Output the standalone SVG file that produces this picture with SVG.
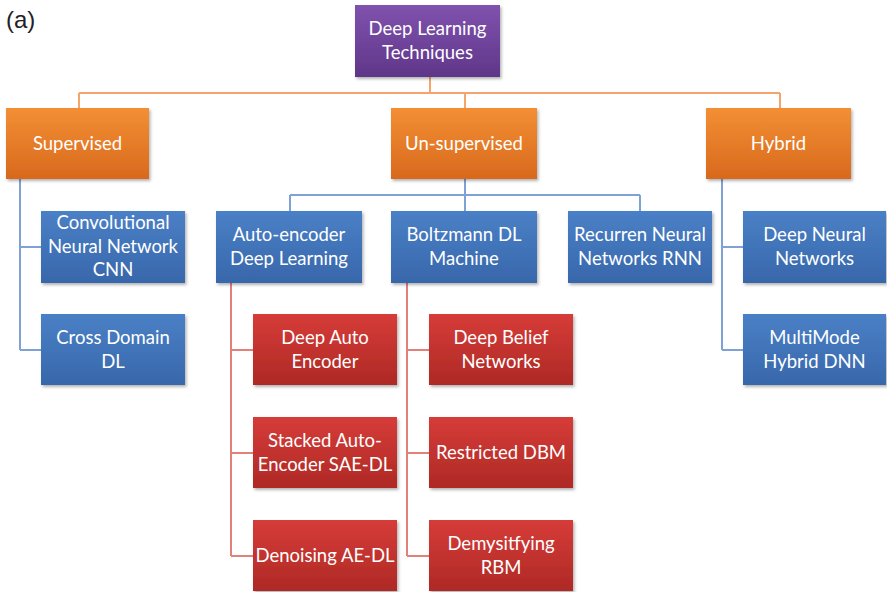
<svg xmlns="http://www.w3.org/2000/svg" width="887" height="592" viewBox="0 0 887 592">
<defs>
<linearGradient id="gP" x1="0" y1="0" x2="0" y2="1"><stop offset="0" stop-color="#8052AE"/><stop offset="1" stop-color="#5F3689"/></linearGradient>
<linearGradient id="gO" x1="0" y1="0" x2="0" y2="1"><stop offset="0" stop-color="#F38F34"/><stop offset="1" stop-color="#D8691D"/></linearGradient>
<linearGradient id="gB" x1="0" y1="0" x2="0" y2="1"><stop offset="0" stop-color="#4A80C6"/><stop offset="1" stop-color="#3867AB"/></linearGradient>
<linearGradient id="gR" x1="0" y1="0" x2="0" y2="1"><stop offset="0" stop-color="#D63C38"/><stop offset="1" stop-color="#AE2925"/></linearGradient>
<filter id="sh" x="-10%" y="-10%" width="125%" height="130%"><feDropShadow dx="1.5" dy="2" stdDeviation="1.5" flood-color="#000" flood-opacity="0.3"/></filter>
</defs>
<style>
.n rect{filter:url(#sh)}
.p{fill:url(#gP)}.o{fill:url(#gO)}.b{fill:url(#gB)}.r{fill:url(#gR)}
text.t{font-family:Lato,"Open Sans",sans-serif;font-size:18.5px;fill:#fff;text-anchor:middle}
.lo{stroke:#F5A56B;stroke-width:2;fill:none}
.lb{stroke:#7EA2D6;stroke-width:2;fill:none}
.lr{stroke:#E2817C;stroke-width:2;fill:none}
</style>
<rect width="887" height="592" fill="#fff"/>
<text x="6" y="28" font-family="Liberation Sans, Arial, sans-serif" font-size="24" fill="#222">(a)</text>
<g id="connectors">
<path class="lo" d="M430 77V93M79 93H780M79 93V108M465 93V108M780 93V108"/>
<path class="lb" d="M20 179V350M20 247H41M20 350H41"/>
<path class="lb" d="M465 179V195M290 195H640M290 195V211M465 195V211M640 195V211"/>
<path class="lb" d="M722 179V350M722 247H743M722 350H743"/>
<path class="lr" d="M231 283V556M231 350H253M231 453H253M231 556H253"/>
<path class="lr" d="M407 283V556M407 350H429M407 453H429M407 556H429"/>
</g>
<g id="root" class="n"><rect class="p" x="355" y="5" width="145" height="72"/><text class="t" x="427.5" y="35">Deep Learning</text><text class="t" x="427.5" y="59">Techniques</text></g>
<g id="supervised" class="n"><rect class="o" x="6" y="108" width="143" height="71"/><text class="t" x="77.5" y="150">Supervised</text></g>
<g id="unsupervised" class="n"><rect class="o" x="391" y="108" width="146" height="71"/><text class="t" x="464" y="150">Un-supervised</text></g>
<g id="hybrid" class="n"><rect class="o" x="706" y="108" width="145" height="71"/><text class="t" x="778.5" y="150">Hybrid</text></g>
<g id="cnn" class="n"><rect class="b" x="41" y="211" width="144" height="72"/><text class="t" x="113" y="229">Convolutional</text><text class="t" x="113" y="253">Neural Network</text><text class="t" x="113" y="276">CNN</text></g>
<g id="crossdomain" class="n"><rect class="b" x="41" y="314" width="144" height="71"/><text class="t" x="113" y="344">Cross Domain</text><text class="t" x="113" y="368">DL</text></g>
<g id="autoencoder" class="n"><rect class="b" x="216" y="211" width="146" height="72"/><text class="t" x="289" y="241">Auto-encoder</text><text class="t" x="289" y="265">Deep Learning</text></g>
<g id="boltzmann" class="n"><rect class="b" x="391" y="211" width="146" height="72"/><text class="t" x="464" y="241">Boltzmann DL</text><text class="t" x="464" y="265">Machine</text></g>
<g id="rnn" class="n"><rect class="b" x="568" y="211" width="144" height="72"/><text class="t" x="640" y="241">Recurren Neural</text><text class="t" x="640" y="265">Networks RNN</text></g>
<g id="dnn" class="n"><rect class="b" x="743" y="211" width="143" height="72"/><text class="t" x="814.5" y="241">Deep Neural</text><text class="t" x="814.5" y="265">Networks</text></g>
<g id="multimode" class="n"><rect class="b" x="743" y="314" width="143" height="71"/><text class="t" x="814.5" y="344">MultiMode</text><text class="t" x="814.5" y="368">Hybrid DNN</text></g>
<g id="deepautoencoder" class="n"><rect class="r" x="253" y="314" width="144" height="71"/><text class="t" x="325" y="344">Deep Auto</text><text class="t" x="325" y="368">Encoder</text></g>
<g id="stacked" class="n"><rect class="r" x="253" y="417" width="144" height="71"/><text class="t" x="325" y="447">Stacked Auto-</text><text class="t" x="325" y="471">Encoder SAE-DL</text></g>
<g id="denoising" class="n"><rect class="r" x="253" y="520" width="144" height="71"/><text class="t" x="325" y="562">Denoising AE-DL</text></g>
<g id="deepbelief" class="n"><rect class="r" x="429" y="314" width="144" height="71"/><text class="t" x="501" y="344">Deep Belief</text><text class="t" x="501" y="368">Networks</text></g>
<g id="restricted" class="n"><rect class="r" x="429" y="417" width="144" height="71"/><text class="t" x="501" y="459">Restricted DBM</text></g>
<g id="demystifying" class="n"><rect class="r" x="429" y="520" width="144" height="71"/><text class="t" x="501" y="550">Demysitfying</text><text class="t" x="501" y="574">RBM</text></g>
</svg>
